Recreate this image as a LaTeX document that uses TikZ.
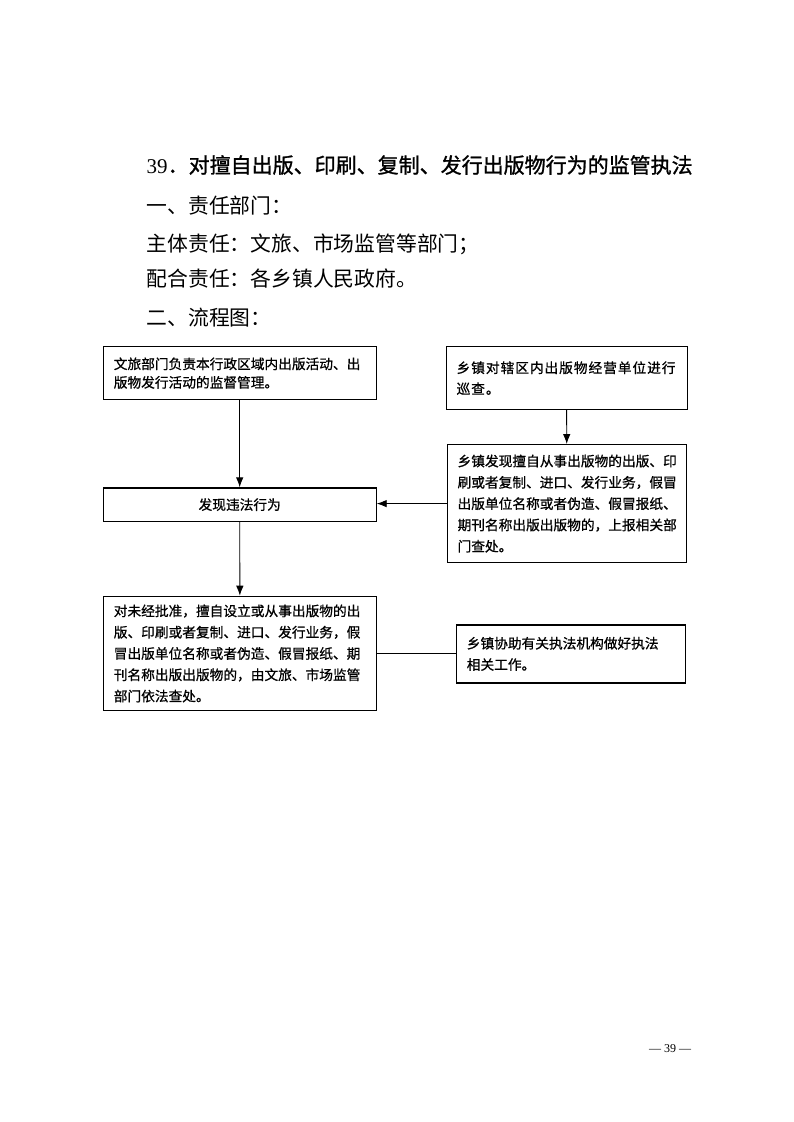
\documentclass[tikz,border=0pt]{standalone}
\usepackage{fontspec}
\setmainfont{Liberation Serif}
\newfontfamily\cjk{Noto Sans CJK SC}
\newfontfamily\cjkbox{Noto Sans CJK SC}[FakeBold=0.8]
\usepackage{tikz}
\usetikzlibrary{arrows.meta,positioning,calc}

\tikzset{
  flowbox/.style={draw,line width=1.2pt,rectangle,anchor=north west,
    inner xsep=10.5pt,inner ysep=0pt,align=left,
    font=\cjkbox\fontsize{13.7}{21.3}\selectfont},
  heading/.style={anchor=base west,inner sep=0pt,font=\cjk\fontsize{20.8}{25}\selectfont},
  link/.style={line width=0.9pt}
}

\begin{document}
\begin{tikzpicture}[x=1pt,y=-1pt,>={Latex[length=10pt,width=7.5pt]}]
  \useasboundingbox (0,0) rectangle (794,1122);
  % title and headings
  \node[heading,font=\cjk\addfontfeature{FakeBold=1.2}\fontsize{21}{25}\selectfont] (title) at (146.5,173)
    {{\rmfamily 39}．对擅自出版、印刷、复制、发行出版物行为的监管执法};
  \foreach \ty/\txt [count=\i] in {213.9/一、责任部门：, 251.9/主体责任：文旅、市场监管等部门；,
      286.9/配合责任：各乡镇人民政府。, 325.6/二、流程图：}
    \node[heading] (head\i) at (146.5,\ty) {\txt};

  % flow boxes
  \node[flowbox,minimum width=272.8pt,minimum height=53pt,text width=251.8pt,
        font=\cjkbox\fontsize{13.7}{18.5}\selectfont] (duty) at (102.7,346)
    {文旅部门负责本行政区域内出版活动、出\\版物发行活动的监督管理。};
  \node[flowbox,minimum width=241pt,minimum height=63pt,text width=220pt,
        font=\cjkbox\addfontfeature{LetterSpace=7}\fontsize{13.7}{21}\selectfont] (patrol) at (445.5,346)
    {乡镇对辖区内出版物经营单位进行\\巡查。};
  \node[flowbox,minimum width=239.5pt,minimum height=118pt,text width=218.5pt] (report) at (446.5,444)
    {乡镇发现擅自从事出版物的出版、印\\刷或者复制、进口、发行业务，假冒\\出版单位名称或者伪造、假冒报纸、\\期刊名称出版出版物的，上报相关部\\门查处。};
  \node[flowbox,minimum width=272.8pt,minimum height=33.4pt,text width=251.8pt,align=center] (found) at (102.7,487.3)
    {发现违法行为};
  \node[flowbox,minimum width=273.3pt,minimum height=114.3pt,text width=252.3pt] (punish) at (102.7,595.7)
    {对未经批准，擅自设立或从事出版物的出\\版、印刷或者复制、进口、发行业务，假\\冒出版单位名称或者伪造、假冒报纸、期\\刊名称出版出版物的，由文旅、市场监管\\部门依法查处。};
  \node[flowbox,minimum width=229.3pt,minimum height=58pt,text width=208.3pt] (assist) at (455.7,624.3)
    {乡镇协助有关执法机构做好执法\\相关工作。};

  % connectors
  \draw[link,->] (duty) -- (found);
  \draw[link,->] (patrol) -- (report);
  \draw[link,->] (report.west) -- (report.west -| found.east);
  \draw[link,->] (found) -- (punish);
  \draw[link] (punish.east |- assist.west) -- (assist.west);

  \node[anchor=base,inner sep=0pt,font=\fontsize{12}{14}\selectfont] (pageno) at (670,1052) {— 39 —};
\end{tikzpicture}
\end{document}
